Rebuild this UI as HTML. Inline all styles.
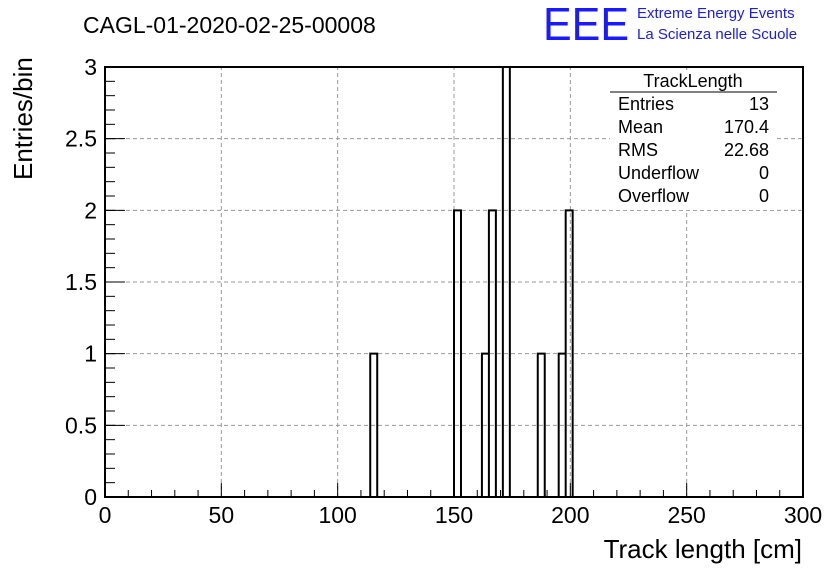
<!DOCTYPE html>
<html><head><meta charset="utf-8"><style>
body{margin:0;background:#fff;}
svg{display:block;font-family:"Liberation Sans",sans-serif;}
</style></head><body>
<svg id="chart" width="836" height="572" viewBox="0 0 836 572">
<rect width="836" height="572" fill="#fff"/>
<text x="83" y="33" font-size="23">CAGL-01-2020-02-25-00008</text>
<g>
<text x="543" y="40" font-size="46" fill="#1a1aff" textLength="86" lengthAdjust="spacingAndGlyphs">EEE</text>
<text x="637" y="18" font-size="15" fill="#1a1aff">Extreme Energy Events</text>
<text x="637" y="39" font-size="15" fill="#1a1aff">La Scienza nelle Scuole</text>
</g>
<g id="grid"></g>
<g id="bars"></g>
<rect x="105" y="67" width="698" height="430" fill="none" stroke="#000" stroke-width="2"/>
<g id="axes"></g>
<text x="802" y="558" font-size="26" text-anchor="end">Track length [cm]</text>
<text transform="translate(32,180) rotate(-90)" font-size="26" text-anchor="start">Entries/bin</text>
<g font-size="18">
<rect x="610" y="70" width="167" height="140" fill="#fff"/>
<text x="693" y="87" text-anchor="middle">TrackLength</text>
<line x1="610" y1="92" x2="777" y2="92" stroke="#000"/>
<text x="618" y="110">Entries</text><text x="769" y="110" text-anchor="end">13</text>
<text x="618" y="133">Mean</text><text x="769" y="133" text-anchor="end">170.4</text>
<text x="618" y="156">RMS</text><text x="769" y="156" text-anchor="end">22.68</text>
<text x="618" y="179">Underflow</text><text x="769" y="179" text-anchor="end">0</text>
<text x="618" y="202">Overflow</text><text x="769" y="202" text-anchor="end">0</text>
</g>
</svg>
<script>
const binEdgesLow = [114,150,162,165,171,186,195,198];
const binCounts = [1,2,1,2,3,1,1,2];
const binWidth = 3;
const xTicks = [0,50,100,150,200,250,300];
const yTicks = [0,0.5,1,1.5,2,2.5,3];
const yTickLabels = ["0","0.5","1","1.5","2","2.5","3"];
const X0=105,X1=803,Y0=497,Y1=67;
const xs=v=>X0+(v-0)*(X1-X0)/300;
const ys=v=>Y0-(v/3)*(Y0-Y1);
const NS="http://www.w3.org/2000/svg";
function mk(t,a,p){const e=document.createElementNS(NS,t);for(const k in a)e.setAttribute(k,a[k]);p.appendChild(e);return e;}
const grid=document.getElementById('grid'),axes=document.getElementById('axes'),bars=document.getElementById('bars');
xTicks.forEach(v=>{
 if(v>0&&v<300){const g=mk('line',{x1:xs(v),x2:xs(v),y1:Y0,y2:Y1,stroke:'#999','stroke-dasharray':'4,3'},grid);
 
 }
 const t=mk('line',{x1:xs(v),x2:xs(v),y1:Y0,y2:Y0-14,stroke:'#000'},axes);
 
 
 const l=mk('text',{x:xs(v),y:523,'font-size':23,'text-anchor':'middle'},axes);l.textContent=v;
 
 
});
for(let v=0;v<300;v+=10){if(v%50)mk('line',{x1:xs(v),x2:xs(v),y1:Y0,y2:Y0-7,stroke:'#000'},axes);}
yTicks.forEach((v,i)=>{
 if(v>0&&v<3){const g=mk('line',{x1:X0,x2:X1,y1:ys(v),y2:ys(v),stroke:'#999','stroke-dasharray':'4,3'},grid);
 
 }
 const t=mk('line',{x1:X0,x2:X0+20,y1:ys(v),y2:ys(v),stroke:'#000'},axes);
 
 
 const l=mk('text',{x:97,y:ys(v)+8,'font-size':23,'text-anchor':'end'},axes);l.textContent=yTickLabels[i];
 
 
});
for(let v=0.1;v<3;v+=0.1){mk('line',{x1:X0,x2:X0+10,y1:ys(v),y2:ys(v),stroke:'#000'},axes);}
let d='M'+X0+','+Y0;
binEdgesLow.forEach((lo,i)=>{
 d+=' L'+xs(lo)+','+Y0+' L'+xs(lo)+','+ys(binCounts[i])+' L'+xs(lo+binWidth)+','+ys(binCounts[i])+' L'+xs(lo+binWidth)+','+Y0;
});
d+=' L'+X1+','+Y0;
const p=mk('path',{d:d,fill:'none',stroke:'#000','stroke-width':2},bars);


</script>
</body></html>
